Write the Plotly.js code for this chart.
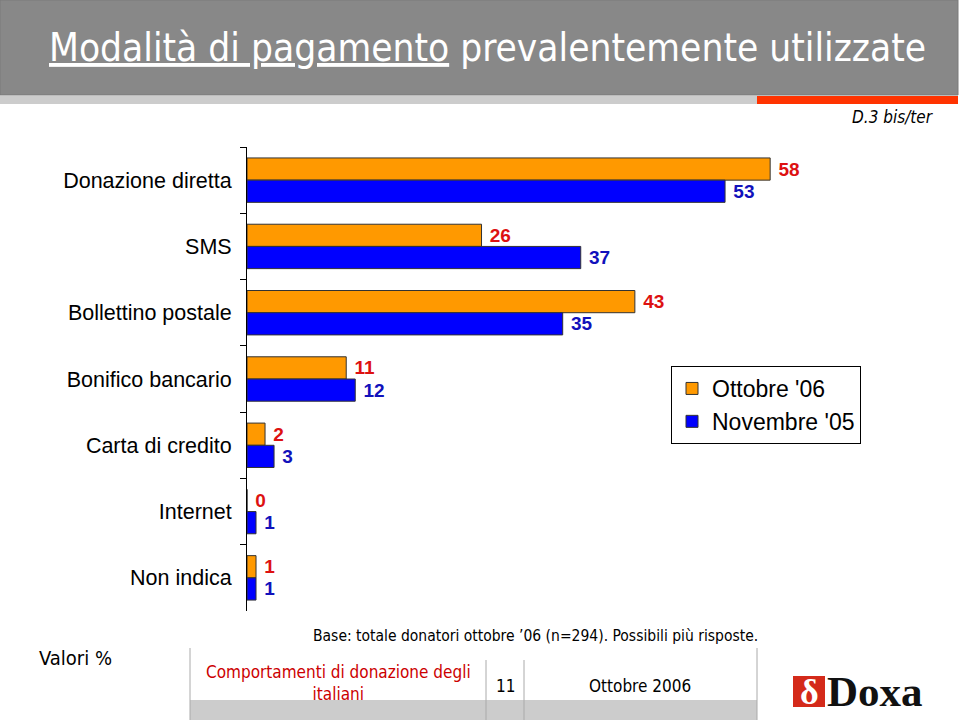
<!DOCTYPE html>
<html>
<head>
<meta charset="utf-8">
<script src="https://cdn.plot.ly/plotly-3.0.1.min.js"></script>
<style>html,body{margin:0;padding:0;background:#fff;}#chart{width:960px;height:720px;}</style>
</head>
<body>
<div id="chart"></div>
<script>
// ---- data ----
var categories = ["Donazione diretta", "SMS", "Bollettino postale", "Bonifico bancario", "Carta di credito", "Internet", "Non indica"];
var ottobre06 = [58, 26, 43, 11, 2, 0, 1];
var novembre05 = [53, 37, 35, 12, 3, 1, 1];
var seriesNames = ["Ottobre '06", "Novembre '05"];

// ---- geometry helpers ----
var W = 960, H = 720;
var ML = 247, MR = 90, MT = 147, MB = 109;
var PW = W - ML - MR, PH = H - MT - MB;
function px(x) { return (x - ML) / PW; }
function py(y) { return 1 - (y - MT) / PH; }
var NARROW = "'DejaVu Sans Condensed', 'Liberation Sans Narrow', Arial, sans-serif";
var ARIAL = "Arial, 'Liberation Sans', sans-serif";

var traces = [
  {
    type: "bar", orientation: "h", name: seriesNames[0],
    y: categories, x: ottobre06,
    marker: {color: "#FF9900", line: {color: "#333333", width: 1}},
    texttemplate: "\u00a0%{x}", textposition: "outside", cliponaxis: false,
    textfont: {family: ARIAL, size: 19, color: "#dd1111", weight: "bold"},
    hoverinfo: "x+y"
  },
  {
    type: "bar", orientation: "h", name: seriesNames[1],
    y: categories, x: novembre05,
    marker: {color: "#0000FF", line: {color: "#333333", width: 1}},
    texttemplate: "\u00a0%{x}", textposition: "outside", cliponaxis: false,
    textfont: {family: ARIAL, size: 19, color: "#1111bb", weight: "bold"},
    hoverinfo: "x+y"
  }
];

var shapes = [
  // header banner
  {type: "rect", xref: "paper", yref: "paper", x0: px(0), x1: px(958), y0: py(0), y1: py(95), fillcolor: "#888888", line: {color: "#7a7a7a", width: 1}, layer: "below"},
  {type: "rect", xref: "paper", yref: "paper", x0: px(0), x1: px(757), y0: py(96), y1: py(104), fillcolor: "#cccccc", line: {width: 0}, layer: "below"},
  {type: "rect", xref: "paper", yref: "paper", x0: px(757), x1: px(958), y0: py(96), y1: py(104), fillcolor: "#ff3300", line: {width: 0}, layer: "below"},
  // footer table
  {type: "rect", xref: "paper", yref: "paper", x0: px(190), x1: px(757), y0: py(700), y1: py(720), fillcolor: "#cccccc", line: {width: 0}, layer: "below"},
  {type: "line", xref: "paper", yref: "paper", x0: px(190), x1: px(190), y0: py(648), y1: py(720), line: {color: "#aaaaaa", width: 1}},
  {type: "line", xref: "paper", yref: "paper", x0: px(486), x1: px(486), y0: py(660), y1: py(720), line: {color: "#aaaaaa", width: 1}},
  {type: "line", xref: "paper", yref: "paper", x0: px(524), x1: px(524), y0: py(660), y1: py(720), line: {color: "#aaaaaa", width: 1}},
  {type: "line", xref: "paper", yref: "paper", x0: px(757), x1: px(757), y0: py(648), y1: py(720), line: {color: "#aaaaaa", width: 1}},
  // Doxa logo square
  {type: "rect", xref: "paper", yref: "paper", x0: px(793), x1: px(825), y0: py(676), y1: py(707), fillcolor: "#d42a1a", line: {width: 0}}
];

var annotations = [
  {xref: "paper", yref: "paper", x: px(487), y: py(47), xanchor: "center", yanchor: "middle", showarrow: false,
   text: "<u>Modalità di pagamento</u> prevalentemente utilizzate", font: {family: NARROW, size: 38.5, color: "#ffffff"}},
  {xref: "paper", yref: "paper", x: px(936), y: py(117), xanchor: "right", yanchor: "middle", showarrow: false,
   text: "<i>D.3 bis/ter</i>", font: {family: NARROW, size: 17, color: "#000000"}},
  {xref: "paper", yref: "paper", x: px(37), y: py(658), xanchor: "left", yanchor: "middle", showarrow: false,
   text: "Valori %", font: {family: NARROW, size: 20, color: "#000000"}},
  {xref: "paper", yref: "paper", x: px(311), y: py(636), xanchor: "left", yanchor: "middle", showarrow: false,
   text: "Base: totale donatori ottobre ’06 (n=294). Possibili più risposte.", font: {family: NARROW, size: 15.5, color: "#000000"}},
  {xref: "paper", yref: "paper", x: px(338), y: py(683), xanchor: "center", yanchor: "middle", showarrow: false,
   text: "Comportamenti di donazione degli<br>italiani", font: {family: NARROW, size: 17, color: "#cc0000"}},
  {xref: "paper", yref: "paper", x: px(505), y: py(686), xanchor: "center", yanchor: "middle", showarrow: false,
   text: "11", font: {family: NARROW, size: 17, color: "#000000"}},
  {xref: "paper", yref: "paper", x: px(640), y: py(686), xanchor: "center", yanchor: "middle", showarrow: false,
   text: "Ottobre 2006", font: {family: NARROW, size: 17, color: "#000000"}},
  {xref: "paper", yref: "paper", x: px(809), y: py(692), xanchor: "center", yanchor: "middle", showarrow: false,
   text: "<b>δ</b>", font: {family: "'Liberation Serif', 'DejaVu Serif', serif", size: 36, color: "#ffffff"}},
  {xref: "paper", yref: "paper", x: px(825), y: py(691), xanchor: "left", yanchor: "middle", showarrow: false,
   text: "<b>Doxa</b>", font: {family: "'Liberation Serif', 'DejaVu Serif', serif", size: 43, color: "#111111"}}
];

var layout = {
  width: W, height: H,
  margin: {l: ML, r: MR, t: MT, b: MB, pad: 0},
  paper_bgcolor: "#ffffff", plot_bgcolor: "#ffffff",
  barmode: "group", bargap: 0.33, bargroupgap: 0,
  showlegend: true,
  legend: {x: px(671), y: py(366), xanchor: "left", yanchor: "top", bgcolor: "#ffffff",
           bordercolor: "#000000", borderwidth: 1, font: {family: ARIAL, size: 23, color: "#000000"},
           itemwidth: 30, tracegroupgap: 0},
  xaxis: {visible: false, range: [0, PW / 9.02], fixedrange: true},
  yaxis: {type: "category", autorange: "reversed", tickson: "boundaries", ticks: "outside", ticklen: 6,
          tickcolor: "#000000", showline: true, linecolor: "#000000", linewidth: 1, showgrid: false,
          zeroline: false, ticklabelstandoff: 10,
          tickfont: {family: ARIAL, size: 21.5, color: "#000000"}},
  shapes: shapes,
  annotations: annotations
};

Plotly.newPlot("chart", traces, layout, {displayModeBar: false, staticPlot: true});
</script>
</body>
</html>
